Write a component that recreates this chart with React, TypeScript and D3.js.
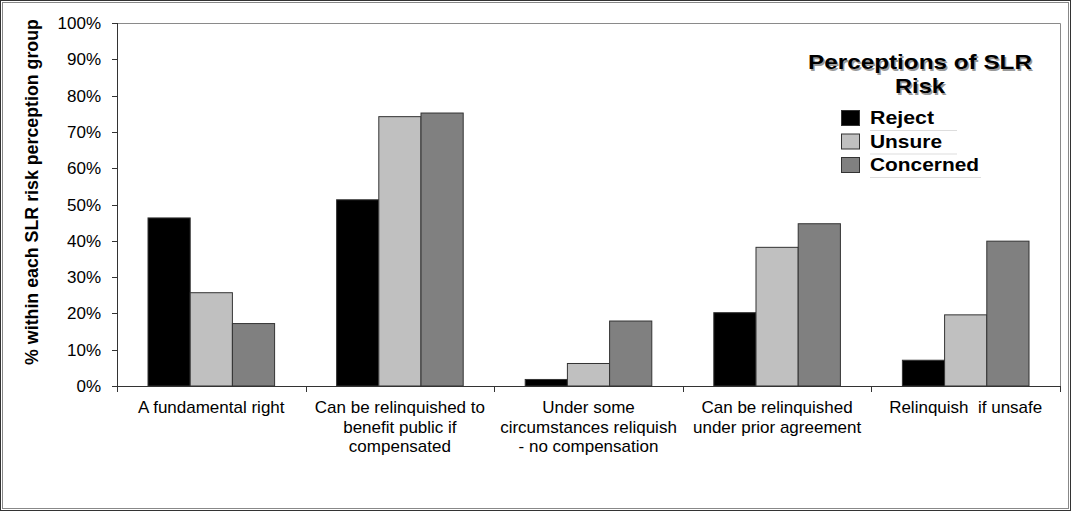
import React from "react";
import * as d3 from "d3";

const categories: string[][] = [
  ["A fundamental right"],
  ["Can be relinquished to", "benefit public if", "compensated"],
  ["Under some", "circumstances reliquish", "- no compensation"],
  ["Can be relinquished", "under prior agreement"],
  ["Relinquish  if unsafe"],
];
const seriesNames = ["Reject", "Unsure", "Concerned"];
const seriesColors = ["#000000", "#c0c0c0", "#808080"];
const rejectValues = [46.3, 51.3, 1.8, 20.2, 7.1];
const unsureValues = [25.7, 74.2, 6.2, 38.2, 19.6];
const concernedValues = [17.2, 75.2, 17.9, 44.7, 39.9];
const yTicks = [0, 10, 20, 30, 40, 50, 60, 70, 80, 90, 100];

const W = 1071;
const H = 511;
const left = 117;
const right = 1060;
const top = 23;
const bottom = 386;
const FONT = "'Liberation Sans', Arial, sans-serif";

export default function App() {
  const seriesValues = [rejectValues, unsureValues, concernedValues];
  const x0 = d3
    .scaleBand<number>()
    .domain(categories.map((_, i) => i))
    .range([left, right])
    .padding(0);
  const bw = x0.bandwidth();
  const pad = bw * (31 / 188.6);
  const x1 = d3
    .scaleBand<number>()
    .domain(seriesNames.map((_, i) => i))
    .range([pad, bw - pad])
    .padding(0);
  const y = d3.scaleLinear().domain([0, 100]).range([bottom, top]);

  const boundaries = categories.map((_, i) => x0(i)!).concat([right]);

  return (
    <div style={{ position: "absolute", left: 0, top: 0 }}>
      <svg width={W} height={H} style={{ display: "block", fontFamily: FONT }}>
        <rect x={0} y={0} width={W} height={H} fill="#fff" />
        <rect x={0.5} y={0.5} width={W - 1} height={H - 1} fill="none" stroke="#333" strokeWidth={1} />
        <rect x={2.5} y={2.5} width={W - 5} height={H - 5} fill="none" stroke="#888" strokeWidth={1} />

        {/* plot area border top/right */}
        <path d={`M${left},${top + 0.5}H${right + 0.5}V${bottom}`} fill="none" stroke="#8a8a8a" strokeWidth={1} />

        {/* bars */}
        {categories.map((_, ci) => (
          <g key={ci} transform={`translate(${x0(ci)},0)`}>
            {seriesNames.map((_, si) => {
              const v = seriesValues[si][ci];
              return (
                <rect
                  key={si}
                  x={x1(si)!}
                  y={y(v)}
                  width={x1.bandwidth()}
                  height={bottom - y(v)}
                  fill={seriesColors[si]}
                  stroke="#333"
                  strokeWidth={1}
                />
              );
            })}
          </g>
        ))}

        {/* y axis */}
        <line x1={left + 0.5} x2={left + 0.5} y1={top} y2={bottom} stroke="#333" />
        {yTicks.map((t) => (
          <g key={t}>
            <line x1={left - 5} x2={left} y1={Math.round(y(t)) + 0.5} y2={Math.round(y(t)) + 0.5} stroke="#333" />
            <text x={101} y={y(t) + 6} textAnchor="end" fontSize={17} fill="#000">
              {t}%
            </text>
          </g>
        ))}

        {/* x axis */}
        <line x1={left} x2={right} y1={bottom + 0.5} y2={bottom + 0.5} stroke="#333" />
        {boundaries.map((b, i) => (
          <line key={i} x1={Math.round(b) + 0.5} x2={Math.round(b) + 0.5} y1={bottom} y2={bottom + 6} stroke="#333" />
        ))}
        {categories.map((lines, ci) => (
          <text key={ci} textAnchor="middle" fontSize={17} fill="#000" style={{ whiteSpace: "pre" }}>
            {lines.map((ln, li) => (
              <tspan key={li} x={x0(ci)! + bw / 2} y={413 + li * 19.5}>
                {ln}
              </tspan>
            ))}
          </text>
        ))}

        {/* y title */}
        <text
          transform={`translate(38,${192}) rotate(-90)`}
          textAnchor="middle"
          fontSize={17.8}
          fontWeight="bold"
          fill="#000"
        >
          % within each SLR risk perception group
        </text>

        {/* legend */}
        <g>
          <text x={920} y={69} textAnchor="middle" fontSize={21} fontWeight="bold" fill="#999" transform="translate(1.5,1.5)" textLength={224} lengthAdjust="spacingAndGlyphs">
            Perceptions of SLR
          </text>
          <text x={920} y={69} textAnchor="middle" fontSize={21} fontWeight="bold" fill="#000" textLength={224} lengthAdjust="spacingAndGlyphs">
            Perceptions of SLR
          </text>
          <text x={920} y={93} textAnchor="middle" fontSize={21} fontWeight="bold" fill="#999" transform="translate(1.5,1.5)" textLength={50} lengthAdjust="spacingAndGlyphs">
            Risk
          </text>
          <text x={920} y={93} textAnchor="middle" fontSize={21} fontWeight="bold" fill="#000" textLength={50} lengthAdjust="spacingAndGlyphs">
            Risk
          </text>
          {seriesNames.map((name, i) => {
            const cy = 118 + i * 23.5;
            const tl = [64, 72, 109][i];
            return (
              <g key={name}>
                <rect x={841.5} y={cy - 7.5} width={18} height={15} fill={seriesColors[i]} stroke="#333" strokeWidth={1} />
                <text x={870} y={cy + 6} fontSize={18} fontWeight="bold" fill="#000" textLength={tl} lengthAdjust="spacingAndGlyphs">
                  {name}
                </text>
                <line x1={870} x2={[957, 957, 981][i]} y1={cy + 12.5} y2={cy + 12.5} stroke="#ddd" />
              </g>
            );
          })}
        </g>
      </svg>
    </div>
  );
}
